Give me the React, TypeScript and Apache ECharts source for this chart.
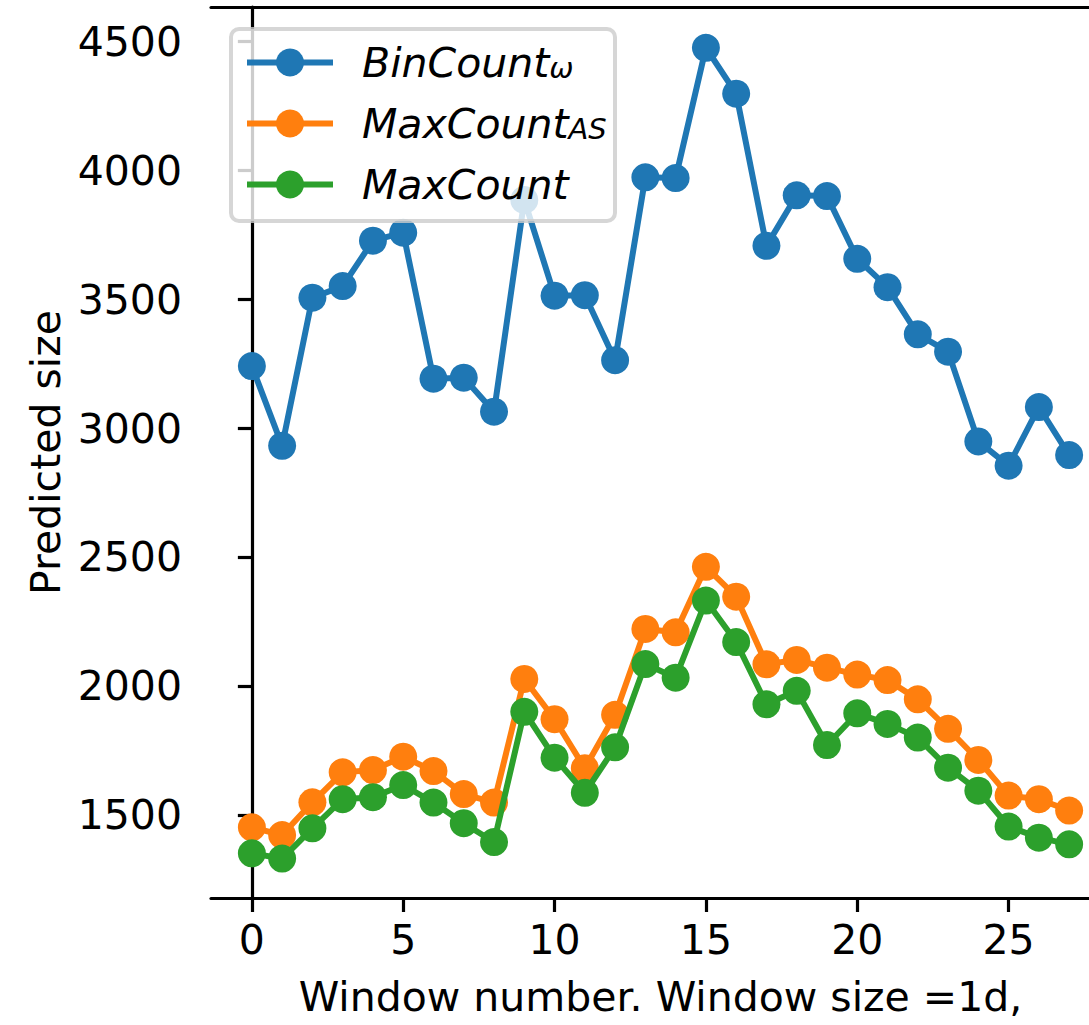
import React, { useEffect, useRef } from 'react';
import * as echarts from 'echarts';

const windows = [0, 1, 2, 3, 4, 5, 6, 7, 8, 9, 10, 11, 12, 13, 14, 15, 16, 17, 18, 19, 20, 21, 22, 23, 24, 25, 26, 27];
const binCountOmega = [3242, 2933, 3507, 3552, 3728, 3759, 3193, 3197, 3065, 3886, 3515, 3517, 3265, 3974, 3971, 4476, 4298, 3708, 3904, 3901, 3658, 3548, 3365, 3298, 2950, 2856, 3083, 2897];
const maxCountAS = [1454, 1424, 1551, 1667, 1676, 1728, 1672, 1583, 1550, 2029, 1873, 1683, 1890, 2223, 2210, 2464, 2348, 2086, 2103, 2073, 2046, 2025, 1950, 1836, 1715, 1577, 1563, 1519];
const maxCount = [1353, 1333, 1450, 1563, 1571, 1618, 1550, 1470, 1397, 1902, 1724, 1588, 1764, 2087, 2034, 2333, 2172, 1931, 1983, 1773, 1896, 1855, 1802, 1685, 1596, 1457, 1414, 1388];
const xTicks = [0, 5, 10, 15, 20, 25];
const yTicks = [1500, 2000, 2500, 3000, 3500, 4000, 4500];
const seriesNames = ['BinCount_ω', 'MaxCount_AS', 'MaxCount'];
const colors = ['#1f77b4', '#ff7f0e', '#2ca02c'];

const FONT = 'DejaVu Sans';
const FS = 41;

export default function App() {
  const ref = useRef<HTMLDivElement>(null);
  useEffect(() => {
    if (!ref.current) return;
    const chart = echarts.init(ref.current, null, { renderer: 'svg' });
    const allSeries = [binCountOmega, maxCountAS, maxCount];
    const axisLine = { show: true, lineStyle: { color: '#000', width: 3.2 } };
    chart.setOption({
      animation: false,
      backgroundColor: '#fff',
      grid: { left: 211, top: 7, right: -21, bottom: 127, outerBoundsMode: 'none', containLabel: false },
      xAxis: [
        {
          type: 'value', min: -1.35, max: 28.35, position: 'bottom',
          axisLine,
          axisTick: { show: true, length: 14, lineStyle: { width: 3.2, color: '#000' }, customValues: xTicks },
          axisLabel: { fontSize: FS, fontFamily: FONT, color: '#000', margin: 21, customValues: xTicks, formatter: (v: number) => String(v) },
          splitLine: { show: false },
          name: 'Window number. Window size =1d,', nameLocation: 'middle', nameGap: 78,
          nameTextStyle: { fontSize: FS, fontFamily: FONT, color: '#000' },
        },
        {
          type: 'value', min: -1.35, max: 28.35, position: 'top',
          axisLine, axisTick: { show: false }, axisLabel: { show: false }, splitLine: { show: false },
        },
      ],
      yAxis: {
        type: 'value', min: 1180, max: 4634,
        axisLine,
        axisTick: { show: true, length: 14, lineStyle: { width: 3.2, color: '#000' }, customValues: yTicks },
        axisLabel: { fontSize: FS, fontFamily: FONT, color: '#000', margin: 29, customValues: yTicks, formatter: (v: number) => String(v) },
        splitLine: { show: false },
        name: 'Predicted size', nameLocation: 'middle', nameGap: 136, nameRotate: 90,
        nameTextStyle: { fontSize: FS, fontFamily: FONT, color: '#000' },
      },
      legend: {
        orient: 'vertical', left: 244, top: 42, padding: 0,
        itemWidth: 86, itemHeight: 35, itemGap: 20,
        data: seriesNames,
        lineStyle: { width: 6 },
        formatter: (name: string) => {
          const [main, sub] = name.split('_');
          return sub ? `{m|${main}}{s|${sub}}` : `{m|${main}}`;
        },
        textStyle: {
          fontSize: FS, fontFamily: FONT, fontStyle: 'italic', color: '#000', padding: [0, 0, 0, 24],
          rich: {
            m: { fontSize: FS, fontFamily: FONT, fontStyle: 'italic', color: '#000', lineHeight: 40 },
            s: { fontSize: 29, fontFamily: FONT, fontStyle: 'italic', color: '#000', lineHeight: 16, verticalAlign: 'bottom' },
          },
        },
      },
      graphic: [
        {
          type: 'rect', z: 3,
          shape: { x: 231, y: 29, width: 384, height: 192, r: 8 },
          style: { fill: 'rgba(255,255,255,0.8)', stroke: 'rgba(204,204,204,0.8)', lineWidth: 4 },
        },
      ],
      series: allSeries.map((vals, i) => ({
        name: seriesNames[i],
        type: 'line',
        z: 2 - 0.1 + i * 0.01,
        data: windows.map((w, j) => [w, vals[j]]),
        symbol: 'circle',
        symbolSize: 28,
        showSymbol: true,
        color: colors[i],
        lineStyle: { width: 6, color: colors[i] },
        itemStyle: { color: colors[i] },
        emphasis: { disabled: true },
      })),
    });
    return () => chart.dispose();
  }, []);
  return <div ref={ref} style={{ position: 'absolute', left: 0, top: 0, width: 1089, height: 1025 }} />;
}
